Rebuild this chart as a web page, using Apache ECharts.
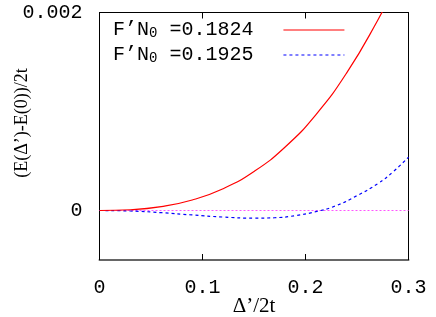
<!DOCTYPE html>
<html><head><meta charset="utf-8">
<script src="https://cdn.jsdelivr.net/npm/echarts@6/dist/echarts.min.js"></script>
<style>html,body{margin:0;padding:0;background:#fff}#c{width:436px;height:317px}</style>
</head><body><div id="c"></div>
<script>
const seriesNames = ['F’N₀ =0.1824', 'F’N₀ =0.1925'];
const legendLabels = [['F’N', '0', ' =0.1824'], ['F’N', '0', ' =0.1925']];
const redX = [0, 0.03, 0.06, 0.09, 0.12, 0.15, 0.18, 0.21, 0.24, 0.27, 0.285];
const redY = [0, 0.0000078, 0.000039, 0.000106, 0.00022, 0.000394, 0.000639, 0.000967, 0.00139, 0.00192, 0.00223];
const blueX = [0, 0.03, 0.06, 0.09, 0.12, 0.15, 0.17, 0.19, 0.21, 0.23, 0.25, 0.27, 0.285, 0.3];
const blueY = [0, -0.000005, -0.000022, -0.000045, -0.000066, -0.000077, -0.000073, -0.000052, -0.000012, 0.00005, 0.00015, 0.00027, 0.00039, 0.00054];
const zeroX = [0, 0.3];
const zeroY = [0, 0];
const xTicks = [0, 0.1, 0.2, 0.3];
const yTickLabels = [0, 0.002];
const xTitle = 'Δ’/2t';
const yTitle = '(E(Δ’)-E(0))/2t';

const zip = (a, b) => a.map((v, i) => [v, b[i]]);
const mono = 'Liberation Mono';
const serif = 'Liberation Serif';

const chart = echarts.init(document.getElementById('c'), null, {renderer: 'canvas'});
chart.setOption({
  animation: false,
  grid: {left: 99.5, top: 12.5, right: 27.5, bottom: 57, show: true, borderColor: '#000', borderWidth: 1, outerBoundsMode: 'none', containLabel: false},
  legend: {
    data: seriesNames,
    orient: 'vertical', left: 108, top: 15, align: 'right',
    itemWidth: 61, itemHeight: 14, itemGap: 5,
    itemStyle: {opacity: 0},
    lineStyle: {width: 1.2},
    formatter: n => { const l = legendLabels[seriesNames.indexOf(n)]; return '{a|' + l[0] + '}{s|' + l[1] + '}{a|' + l[2] + '}{p| }'; },
    textStyle: {rich: {
      a: {fontFamily: mono, fontSize: 20, color: '#000'},
      s: {fontFamily: mono, fontSize: 14, color: '#000', verticalAlign: 'bottom', padding: [6, 0, 0, 0]},
      p: {fontFamily: mono, fontSize: 20, width: 25}
    }}
  },
  xAxis: [{
    type: 'value', min: 0, max: 0.3, interval: 0.1, position: 'bottom',
    axisLine: {onZero: false, lineStyle: {color: '#666', width: 2}},
    axisTick: {inside: true, length: 6, lineStyle: {color: '#000'}},
    axisLabel: {fontFamily: mono, fontSize: 20, color: '#000', margin: 18,
      formatter: v => { const t = xTicks.find(x => Math.abs(x - v) < 1e-9); return t === undefined ? '' : String(t); }},
    splitLine: {show: false}
  }, {
    type: 'value', min: 0, max: 0.3, interval: 0.1, position: 'top',
    axisLine: {onZero: false, lineStyle: {color: '#000'}},
    axisTick: {inside: true, length: 6, lineStyle: {color: '#000'}},
    axisLabel: {show: false}, splitLine: {show: false}
  }],
  yAxis: [{
    type: 'value', min: -0.0005, max: 0.002, interval: 0.0005,
    axisLine: {onZero: false, lineStyle: {color: '#000'}},
    axisTick: {show: false},
    axisLabel: {fontFamily: mono, fontSize: 20, color: '#000', margin: 17,
      formatter: v => { const t = yTickLabels.find(y => Math.abs(y - v) < 1e-12); return t === undefined ? '' : String(t); }},
    splitLine: {show: false}
  }],
  graphic: [{
    type: 'text', x: 22, y: 123, rotation: Math.PI / 2,
    style: {text: yTitle, fontFamily: serif, fontSize: 18, fill: '#000', align: 'center', verticalAlign: 'middle'}
  }, {
    type: 'text', x: 254, y: 306,
    style: {text: xTitle, fontFamily: serif, fontSize: 21, fill: '#000', align: 'center', verticalAlign: 'middle'}
  }],
  series: [{
    name: 'zero', type: 'line', data: zip(zeroX, zeroY), symbol: 'none', xAxisIndex: 0,
    lineStyle: {color: '#ff55ff', width: 1, type: [2, 2]}, silent: true, z: 1
  }, {
    name: seriesNames[0], type: 'line', data: zip(redX, redY), symbol: 'none', smooth: true, clip: true,
    lineStyle: {color: '#ff0000', width: 1.2}, itemStyle: {color: '#ff0000'}, z: 3
  }, {
    name: seriesNames[1], type: 'line', data: zip(blueX, blueY), symbol: 'none', smooth: true, clip: true,
    lineStyle: {color: '#0000ff', width: 1.2, type: [3, 3]}, itemStyle: {color: '#0000ff'}, z: 2
  }]
});
</script></body></html>
